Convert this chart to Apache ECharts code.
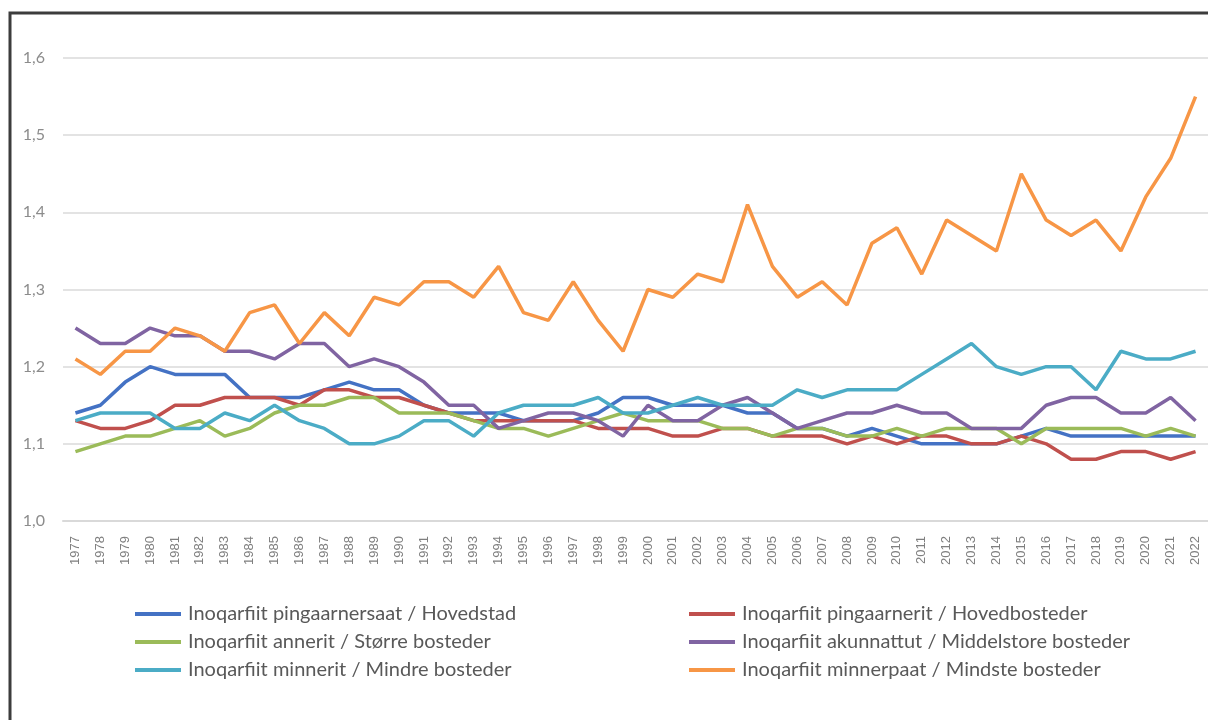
<!DOCTYPE html>
<html>
<head>
<meta charset="utf-8">
<title>Inoqarfiit</title>
<script src="https://cdn.jsdelivr.net/npm/echarts@6/dist/echarts.min.js"></script>
<style>
  html, body { margin: 0; padding: 0; background: #fff; }
  #chart { width: 1208px; height: 720px; }
</style>
</head>
<body>
<div id="chart"></div>
<script>
// years on the x axis
var years = [];
for (var y = 1977; y <= 2022; y++) years.push(String(y));

var yTicks = [1.0, 1.1, 1.2, 1.3, 1.4, 1.5, 1.6];

var names = [
  "Inoqarfiit pingaarnersaat / Hovedstad",
  "Inoqarfiit pingaarnerit / Hovedbosteder",
  "Inoqarfiit annerit / Større bosteder",
  "Inoqarfiit akunnattut / Middelstore bosteder",
  "Inoqarfiit minnerit / Mindre bosteder",
  "Inoqarfiit minnerpaat / Mindste bosteder"
];

var hovedstad = [1.14, 1.15, 1.18, 1.20, 1.19, 1.19, 1.19, 1.16, 1.16, 1.16, 1.17, 1.18, 1.17, 1.17, 1.15, 1.14,
  1.14, 1.14, 1.13, 1.13, 1.13, 1.14, 1.16, 1.16, 1.15, 1.15, 1.15, 1.14, 1.14, 1.12, 1.12, 1.11,
  1.12, 1.11, 1.10, 1.10, 1.10, 1.10, 1.11, 1.12, 1.11, 1.11, 1.11, 1.11, 1.11, 1.11];
var hovedbosteder = [1.13, 1.12, 1.12, 1.13, 1.15, 1.15, 1.16, 1.16, 1.16, 1.15, 1.17, 1.17, 1.16, 1.16, 1.15, 1.14,
  1.13, 1.13, 1.13, 1.13, 1.13, 1.12, 1.12, 1.12, 1.11, 1.11, 1.12, 1.12, 1.11, 1.11, 1.11, 1.10,
  1.11, 1.10, 1.11, 1.11, 1.10, 1.10, 1.11, 1.10, 1.08, 1.08, 1.09, 1.09, 1.08, 1.09];
var storre = [1.09, 1.10, 1.11, 1.11, 1.12, 1.13, 1.11, 1.12, 1.14, 1.15, 1.15, 1.16, 1.16, 1.14, 1.14, 1.14,
  1.13, 1.12, 1.12, 1.11, 1.12, 1.13, 1.14, 1.13, 1.13, 1.13, 1.12, 1.12, 1.11, 1.12, 1.12, 1.11,
  1.11, 1.12, 1.11, 1.12, 1.12, 1.12, 1.10, 1.12, 1.12, 1.12, 1.12, 1.11, 1.12, 1.11];
var middelstore = [1.25, 1.23, 1.23, 1.25, 1.24, 1.24, 1.22, 1.22, 1.21, 1.23, 1.23, 1.20, 1.21, 1.20, 1.18, 1.15,
  1.15, 1.12, 1.13, 1.14, 1.14, 1.13, 1.11, 1.15, 1.13, 1.13, 1.15, 1.16, 1.14, 1.12, 1.13, 1.14,
  1.14, 1.15, 1.14, 1.14, 1.12, 1.12, 1.12, 1.15, 1.16, 1.16, 1.14, 1.14, 1.16, 1.13];
var mindre = [1.13, 1.14, 1.14, 1.14, 1.12, 1.12, 1.14, 1.13, 1.15, 1.13, 1.12, 1.10, 1.10, 1.11, 1.13, 1.13,
  1.11, 1.14, 1.15, 1.15, 1.15, 1.16, 1.14, 1.14, 1.15, 1.16, 1.15, 1.15, 1.15, 1.17, 1.16, 1.17,
  1.17, 1.17, 1.19, 1.21, 1.23, 1.20, 1.19, 1.20, 1.20, 1.17, 1.22, 1.21, 1.21, 1.22];
var mindste = [1.21, 1.19, 1.22, 1.22, 1.25, 1.24, 1.22, 1.27, 1.28, 1.23, 1.27, 1.24, 1.29, 1.28, 1.31, 1.31,
  1.29, 1.33, 1.27, 1.26, 1.31, 1.26, 1.22, 1.30, 1.29, 1.32, 1.31, 1.41, 1.33, 1.29, 1.31, 1.28,
  1.36, 1.38, 1.32, 1.39, 1.37, 1.35, 1.45, 1.39, 1.37, 1.39, 1.35, 1.42, 1.47, 1.55];

var seriesData = [hovedstad, hovedbosteder, storre, middelstore, mindre, mindste];
var colors = ["#4472C4", "#C0504D", "#9BBB59", "#8064A2", "#4BACC6", "#F79646"];

var chart = echarts.init(document.getElementById("chart"));

var legendBase = {
  orient: "vertical",
  top: 604,
  padding: 0,
  icon: "rect",
  itemWidth: 46,
  itemHeight: 4,
  itemGap: 8,
  selectedMode: false,
  textStyle: {
    fontFamily: "Lato",
    fontSize: 20,
    lineHeight: 20,
    color: "#595959",
    padding: [0, 0, 0, 2]
  }
};

chart.setOption({
  animation: false,
  color: colors,
  grid: {
    left: 63,
    top: 58,
    width: 1148,
    height: 463
  },
  legend: [
    Object.assign({}, legendBase, { left: 135, data: [names[0], names[2], names[4]] }),
    Object.assign({}, legendBase, { left: 689, data: [names[1], names[3], names[5]] })
  ],
  xAxis: {
    type: "category",
    data: years,
    boundaryGap: true,
    axisTick: { show: false },
    axisLine: { lineStyle: { color: "#D9D9D9", width: 2 } },
    axisLabel: {
      rotate: 90,
      interval: 0,
      margin: 15,
      fontFamily: "Liberation Sans Narrow, Liberation Sans",
      fontSize: 13,
      color: "#7F7F7F"
    }
  },
  yAxis: {
    type: "value",
    min: yTicks[0],
    max: yTicks[yTicks.length - 1],
    interval: 0.1,
    axisLine: { show: false },
    axisTick: { show: false },
    splitLine: { lineStyle: { color: "#E3E3E3", width: 2 } },
    axisLabel: {
      margin: 18,
      fontFamily: "Lato",
      fontSize: 16,
      color: "#8C8C8C",
      formatter: function (v) {
        return v.toFixed(1).replace(".", ",");
      }
    }
  },
  // frame of the original screenshot (left and top edges only)
  graphic: [
    {
      type: "polyline",
      shape: { points: [[10, 720], [10, 13], [1208, 13]] },
      style: { stroke: "#3C3C3C", lineWidth: 3, fill: null }
    }
  ],
  series: seriesData.map(function (d, i) {
    return {
      name: names[i],
      type: "line",
      data: d,
      showSymbol: false,
      lineStyle: { width: 3.5, color: colors[i] },
      itemStyle: { color: colors[i] }
    };
  })
});
</script>
</body>
</html>
